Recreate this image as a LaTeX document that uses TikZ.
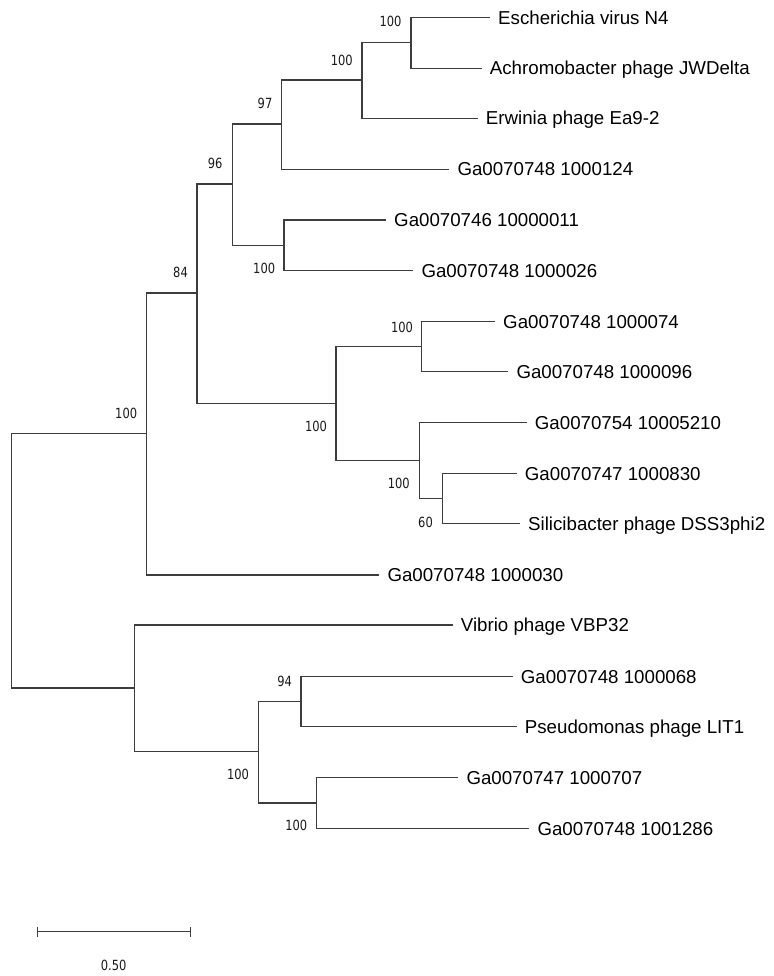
\documentclass[tikz,border=0pt]{standalone}
\usepackage{fontspec}
\setmainfont{Liberation Sans}
\newfontfamily\bsfont[FakeStretch=0.82]{DejaVu Sans}
\begin{document}
\begin{tikzpicture}[x=1pt,y=-1pt,
  br/.style={draw=black!76, line width=1.35pt},
  leaf/.style={anchor=base west, inner sep=0pt, xshift=8pt, yshift=-6.7pt, font=\fontsize{18.7}{20}\selectfont},
  bs/.style={anchor=center, inner sep=0pt, text=black!90, font=\bsfont\fontsize{14}{15}\selectfont}]
\useasboundingbox (0,0) rectangle (773,976);
% internal nodes
\coordinate (root) at (11.7,560.7);
\coordinate (nUp) at (146.7,433.5);
\coordinate (n84) at (197,293);
\coordinate (n96) at (232.3,184);
\coordinate (n97) at (281.7,124);
\coordinate (nE) at (362,80);
\coordinate (nN4) at (411,42.5);
\coordinate (n11) at (284,245.5);
\coordinate (nB) at (336,403.3);
\coordinate (n74) at (421.7,346.7);
\coordinate (n52) at (419.3,460.3);
\coordinate (n60) at (442.7,498.3);
\coordinate (nLow) at (134.7,688);
\coordinate (nL) at (258.3,751.5);
\coordinate (n94) at (301,701.5);
\coordinate (n707) at (316.7,803);
% leaf ends
\coordinate (eN4) at (490,17.7);
\coordinate (eJW) at (481.7,68.3);
\coordinate (eEr) at (477.7,118.3);
\coordinate (e124) at (449.3,169.3);
\coordinate (e11) at (386,220);
\coordinate (e26) at (413.3,270.7);
\coordinate (e074) at (495,321.7);
\coordinate (e096) at (508.3,371.7);
\coordinate (e5210) at (526.7,422.7);
\coordinate (e830) at (516.7,473.3);
\coordinate (eDSS) at (520,523.3);
\coordinate (e030) at (379.3,575);
\coordinate (eVib) at (452.7,625);
\coordinate (e068) at (512.7,676.3);
\coordinate (eLIT) at (516.7,726.7);
\coordinate (e707) at (458.3,777.7);
\coordinate (e1286) at (529.3,828.3);
% branches
\draw[br] (root) |- (nUp);
\draw[br] (root) |- (nLow);
\draw[br] (nUp) |- (n84);
\draw[br] (nUp) |- (e030);
\draw[br] (n84) |- (n96);
\draw[br] (n84) |- (nB);
\draw[br] (n96) |- (n97);
\draw[br] (n96) |- (n11);
\draw[br] (n97) |- (nE);
\draw[br] (n97) |- (e124);
\draw[br] (nE) |- (nN4);
\draw[br] (nE) |- (eEr);
\draw[br] (nN4) |- (eN4);
\draw[br] (nN4) |- (eJW);
\draw[br] (n11) |- (e11);
\draw[br] (n11) |- (e26);
\draw[br] (nB) |- (n74);
\draw[br] (nB) |- (n52);
\draw[br] (n74) |- (e074);
\draw[br] (n74) |- (e096);
\draw[br] (n52) |- (e5210);
\draw[br] (n52) |- (n60);
\draw[br] (n60) |- (e830);
\draw[br] (n60) |- (eDSS);
\draw[br] (nLow) |- (eVib);
\draw[br] (nLow) |- (nL);
\draw[br] (nL) |- (n94);
\draw[br] (nL) |- (n707);
\draw[br] (n94) |- (e068);
\draw[br] (n94) |- (eLIT);
\draw[br] (n707) |- (e707);
\draw[br] (n707) |- (e1286);
% leaf labels
\node[leaf] (tN4) at (eN4) {Escherichia virus N4};
\node[leaf] (tJW) at (eJW) {Achromobacter phage JWDelta};
\node[leaf] (tEr) at (eEr) {Erwinia phage Ea9-2};
\node[leaf] (t124) at (e124) {Ga0070748 1000124};
\node[leaf] (t11) at (e11) {Ga0070746 10000011};
\node[leaf] (t26) at (e26) {Ga0070748 1000026};
\node[leaf] (t074) at (e074) {Ga0070748 1000074};
\node[leaf] (t096) at (e096) {Ga0070748 1000096};
\node[leaf] (t5210) at (e5210) {Ga0070754 10005210};
\node[leaf] (t830) at (e830) {Ga0070747 1000830};
\node[leaf] (tDSS) at (eDSS) {Silicibacter phage DSS3phi2};
\node[leaf] (t030) at (e030) {Ga0070748 1000030};
\node[leaf] (tVib) at (eVib) {Vibrio phage VBP32};
\node[leaf] (t068) at (e068) {Ga0070748 1000068};
\node[leaf] (tLIT) at (eLIT) {Pseudomonas phage LIT1};
\node[leaf] (t707) at (e707) {Ga0070747 1000707};
\node[leaf] (t1286) at (e1286) {Ga0070748 1001286};
% bootstrap values
\node[bs] (bN4) at (390.5,21.8) {100};
\node[bs] (bE) at (341.8,60) {100};
\node[bs] (b97) at (265,103.8) {97};
\node[bs] (b96) at (215.2,163.7) {96};
\node[bs] (b11) at (264.2,268) {100};
\node[bs] (b84) at (180.5,272.8) {84};
\node[bs] (bUp) at (126.2,413.7) {100};
\node[bs] (bB) at (316,426.2) {100};
\node[bs] (b74) at (402,327) {100};
\node[bs] (b52) at (398.8,483.7) {100};
\node[bs] (b60) at (425.5,522) {60};
\node[bs] (b94) at (284.7,681.3) {94};
\node[bs] (bL) at (238,774.5) {100};
\node[bs] (b707) at (296.3,825.3) {100};
% scale bar
\coordinate (sA) at (37.3,931.7);
\coordinate (sB) at (190.7,931.7);
\draw[br] (sA) -- (sB);
\draw[br] ([yshift=5pt]sA) -- ([yshift=-5pt]sA);
\draw[br] ([yshift=5pt]sB) -- ([yshift=-5pt]sB);
\node[bs] (sl) at (113.7,965) {0.50};
\end{tikzpicture}
\end{document}
